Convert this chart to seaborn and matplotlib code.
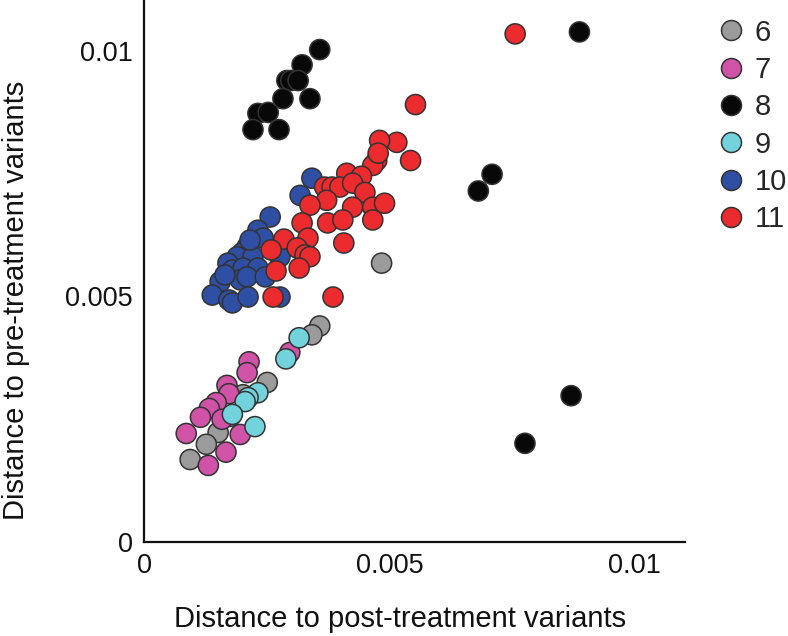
import numpy as np
import pandas as pd
import matplotlib
matplotlib.use("Agg")
import matplotlib.pyplot as plt
import seaborn as sns
from matplotlib.lines import Line2D

# values (x = post-treatment, y = pre-treatment)
x6 = [0.00484, 0.00358, 0.00342, 0.00251, 0.00202, 0.00151, 0.00127, 0.00094, 0.00176]
y6 = [0.00567, 0.00439, 0.00421, 0.00324, 0.00299, 0.00222, 0.00198, 0.00167, 0.00255]

x7 = [0.00297, 0.00214, 0.00210, 0.00169, 0.00173, 0.00147, 0.00133, 0.00115, 0.00159,
      0.00086, 0.00196, 0.00167, 0.00131]
y7 = [0.00385, 0.00366, 0.00344, 0.00318, 0.00301, 0.00283, 0.00271, 0.00253, 0.00249,
      0.00220, 0.00218, 0.00182, 0.00155]

x8 = [0.00358, 0.00322, 0.00291, 0.00299, 0.00314, 0.00283, 0.00338, 0.00232, 0.00253,
      0.00222, 0.00275, 0.00887, 0.00681, 0.00709, 0.00870, 0.00776]
y8 = [0.01002, 0.00971, 0.00939, 0.00939, 0.00939, 0.00902, 0.00902, 0.00872, 0.00874,
      0.00839, 0.00839, 0.01038, 0.00714, 0.00748, 0.00297, 0.00200]

x9 = [0.00316, 0.00289, 0.00232, 0.00212, 0.00206, 0.00180, 0.00226]
y9 = [0.00415, 0.00372, 0.00303, 0.00293, 0.00285, 0.00259, 0.00234]

x10 = [0.00342, 0.00318, 0.00257, 0.00232, 0.00243, 0.00210, 0.00200, 0.00190, 0.00222,
       0.00171, 0.00180, 0.00202, 0.00232, 0.00155, 0.00196, 0.00210, 0.00247, 0.00139,
       0.00173, 0.00180, 0.00212, 0.00277, 0.00277, 0.00216, 0.00165]
y10 = [0.00740, 0.00705, 0.00661, 0.00634, 0.00618, 0.00600, 0.00588, 0.00580, 0.00580,
       0.00567, 0.00553, 0.00557, 0.00557, 0.00529, 0.00533, 0.00539, 0.00539, 0.00502,
       0.00492, 0.00486, 0.00498, 0.00498, 0.00580, 0.00614, 0.00543]

x11 = [0.00756, 0.00553, 0.00515, 0.00543, 0.00480, 0.00474, 0.00466, 0.00413, 0.00443,
       0.00368, 0.00383, 0.00399, 0.00425, 0.00450, 0.00372, 0.00338, 0.00425, 0.00466,
       0.00490, 0.00374, 0.00405, 0.00466, 0.00322, 0.00334, 0.00285, 0.00312, 0.00328,
       0.00338, 0.00259, 0.00407, 0.00269, 0.00316, 0.00263, 0.00385, 0.00477]
y11 = [0.01034, 0.00890, 0.00813, 0.00776, 0.00817, 0.00776, 0.00766, 0.00750, 0.00744,
       0.00722, 0.00722, 0.00722, 0.00730, 0.00711, 0.00695, 0.00685, 0.00681, 0.00681,
       0.00689, 0.00649, 0.00655, 0.00655, 0.00649, 0.00618, 0.00616, 0.00598, 0.00584,
       0.00580, 0.00594, 0.00608, 0.00551, 0.00557, 0.00498, 0.00498, 0.00791]

groups = ["6", "7", "8", "9", "10", "11"]
colors = ["#9b9b9b", "#d153a8", "#080808", "#72d3dc", "#2f4fa5", "#ec2b2e"]

xs = [x6, x7, x8, x9, x10, x11]
ys = [y6, y7, y8, y9, y10, y11]
df = pd.concat([pd.DataFrame({"post": a, "pre": b, "group": g})
                for a, b, g in zip(xs, ys, groups)], ignore_index=True)

sns.set_style("white")
plt.rcParams['font.family'] = ['Liberation Sans', 'DejaVu Sans']

fig = plt.figure(figsize=(7.88, 6.36), dpi=100)
ax = fig.add_axes([144/788, 94.5/636, 541/788, 541.5/636])

palette = dict(zip(groups, colors))
sns.scatterplot(data=df, x="post", y="pre", hue="group", hue_order=groups,
                palette=palette, s=210, edgecolor="#333333", linewidth=1.1,
                alpha=1, legend=False, ax=ax, zorder=3)

ax.set_xlim(0, 0.01102)
ax.set_ylim(0, 0.01103)
ax.set_xticks([0, 0.005, 0.01])
ax.set_yticks([0, 0.005, 0.01])
ax.set_xticklabels(["0", "0.005", "0.01"])
ax.set_yticklabels(["0", "0.005", "0.01"])
ax.tick_params(direction="in", length=5, width=1.3, labelsize=19.5, pad=8, colors="#111111")
for s in ["top", "right"]:
    ax.spines[s].set_visible(False)
for s in ["left", "bottom"]:
    ax.spines[s].set_linewidth(1.6)
    ax.spines[s].set_color("#111111")

ax.set_xlabel("Distance to post-treatment variants", fontsize=21, color="#111111")
ax.set_ylabel("Distance to pre-treatment variants", fontsize=21, color="#111111")
ax.xaxis.set_label_coords(0.473, -0.118)
ax.yaxis.set_label_coords(-0.21, 0.445)

handles = [Line2D([], [], marker="o", linestyle="", markersize=14.4,
                  markerfacecolor=c, markeredgecolor="#333333", markeredgewidth=1.1)
           for c in colors]
ax.legend(handles, groups, loc="upper left", bbox_to_anchor=(702/788, 1 - 7/636),
          bbox_transform=fig.transFigure, frameon=False, fontsize=21,
          handletextpad=0.2, labelspacing=0.32, handlelength=1.2, borderaxespad=0)

fig.savefig("out.png", dpi=100)
